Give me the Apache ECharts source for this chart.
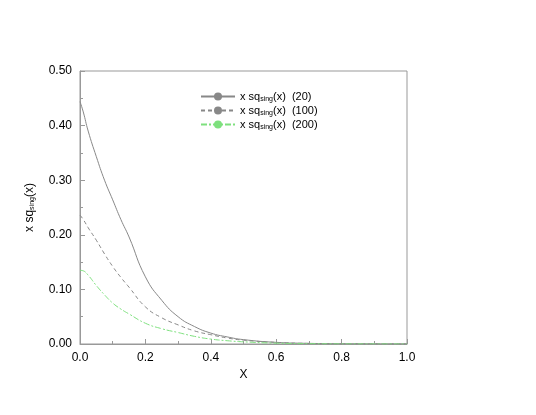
<!DOCTYPE html>
<html>
<head>
<meta charset="utf-8">
<script src="https://cdn.jsdelivr.net/npm/echarts@6/dist/echarts.min.js"></script>
<style>html,body{margin:0;padding:0;background:#fff}#c{width:536px;height:415px}</style>
</head>
<body>
<div id="c"></div>
<script>
var xs = [0, 0.01, 0.025, 0.05, 0.075, 0.1, 0.125, 0.15, 0.2, 0.25, 0.3, 0.35, 0.4, 0.45, 0.5, 0.6, 0.7, 0.8, 0.9, 1.0];
var s20 = [0.444, 0.425, 0.39, 0.343, 0.3, 0.264, 0.228, 0.196, 0.123, 0.08, 0.05, 0.032, 0.02, 0.013, 0.008, 0.003, 0.0012, 0.0005, 0.0002, 0.0001];
var s100 = [0.236, 0.228, 0.213, 0.19, 0.165, 0.142, 0.122, 0.104, 0.068, 0.048, 0.035, 0.024, 0.017, 0.011, 0.007, 0.003, 0.001, 0.0004, 0.0002, 0.0001];
var s200 = [0.135, 0.134, 0.126, 0.107, 0.09, 0.075, 0.064, 0.055, 0.038, 0.028, 0.021, 0.014, 0.009, 0.006, 0.004, 0.0015, 0.0006, 0.0002, 0.0001, 0];

function pts(ys) { return xs.map(function (x, i) { return [x, ys[i]]; }); }

var rich = { sub: { fontSize: 7, verticalAlign: 'bottom', padding: [6, 0, 0, 0], fontFamily: 'Liberation Sans' } };
var names = ['20', '100', '200'];
var chart = echarts.init(document.getElementById('c'));
var ax = {
  axisLine: { lineStyle: { color: '#999' } },
  axisTick: { inside: true, length: 5, lineStyle: { color: '#999' } },
  minorTick: { show: true, splitNumber: 2, length: 3, lineStyle: { color: '#999' } },
  splitLine: { show: false },
  axisLabel: { color: '#000', fontSize: 12, fontFamily: 'Liberation Sans' },
  nameTextStyle: { color: '#000', fontSize: 12, fontFamily: 'Liberation Sans', rich: rich }
};
chart.setOption({
  animation: false,
  grid: { left: 80, right: 129, top: 71, bottom: 71, show: true, borderColor: '#999', borderWidth: 1 },
  legend: {
    left: 195, top: 86, orient: 'vertical', itemGap: 2, itemWidth: 34, itemHeight: 10,
    textStyle: { fontSize: 11, fontFamily: 'Liberation Sans', color: '#000', rich: rich },
    formatter: function (n) { return 'x sq{sub|sing}(x)  (' + n + ')'; },
    data: names
  },
  xAxis: Object.assign({ type: 'value', min: 0, max: 1, interval: 0.2, name: 'X', nameLocation: 'middle', nameGap: 22 }, ax, {
    axisLabel: Object.assign({}, ax.axisLabel, { formatter: function (v) { return v.toFixed(1); } })
  }),
  yAxis: Object.assign({ type: 'value', min: 0, max: 0.5, interval: 0.1, name: 'x sq{sub|sing}(x)', nameLocation: 'middle', nameGap: 44 }, ax, {
    axisLabel: Object.assign({}, ax.axisLabel, { formatter: function (v) { return v.toFixed(2); } })
  }),
  series: [
    { name: '20', type: 'line', smooth: true, symbol: 'none', data: pts(s20), lineStyle: { color: '#888', width: 1 }, itemStyle: { color: '#888' } },
    { name: '100', type: 'line', smooth: true, symbol: 'none', data: pts(s100), lineStyle: { color: '#888', width: 1, type: [4, 3] }, itemStyle: { color: '#888' } },
    { name: '200', type: 'line', smooth: true, symbol: 'none', data: pts(s200), lineStyle: { color: '#7ee07e', width: 1, type: [6, 2, 2, 2] }, itemStyle: { color: '#7ee07e' } }
  ]
});
</script>
</body>
</html>
